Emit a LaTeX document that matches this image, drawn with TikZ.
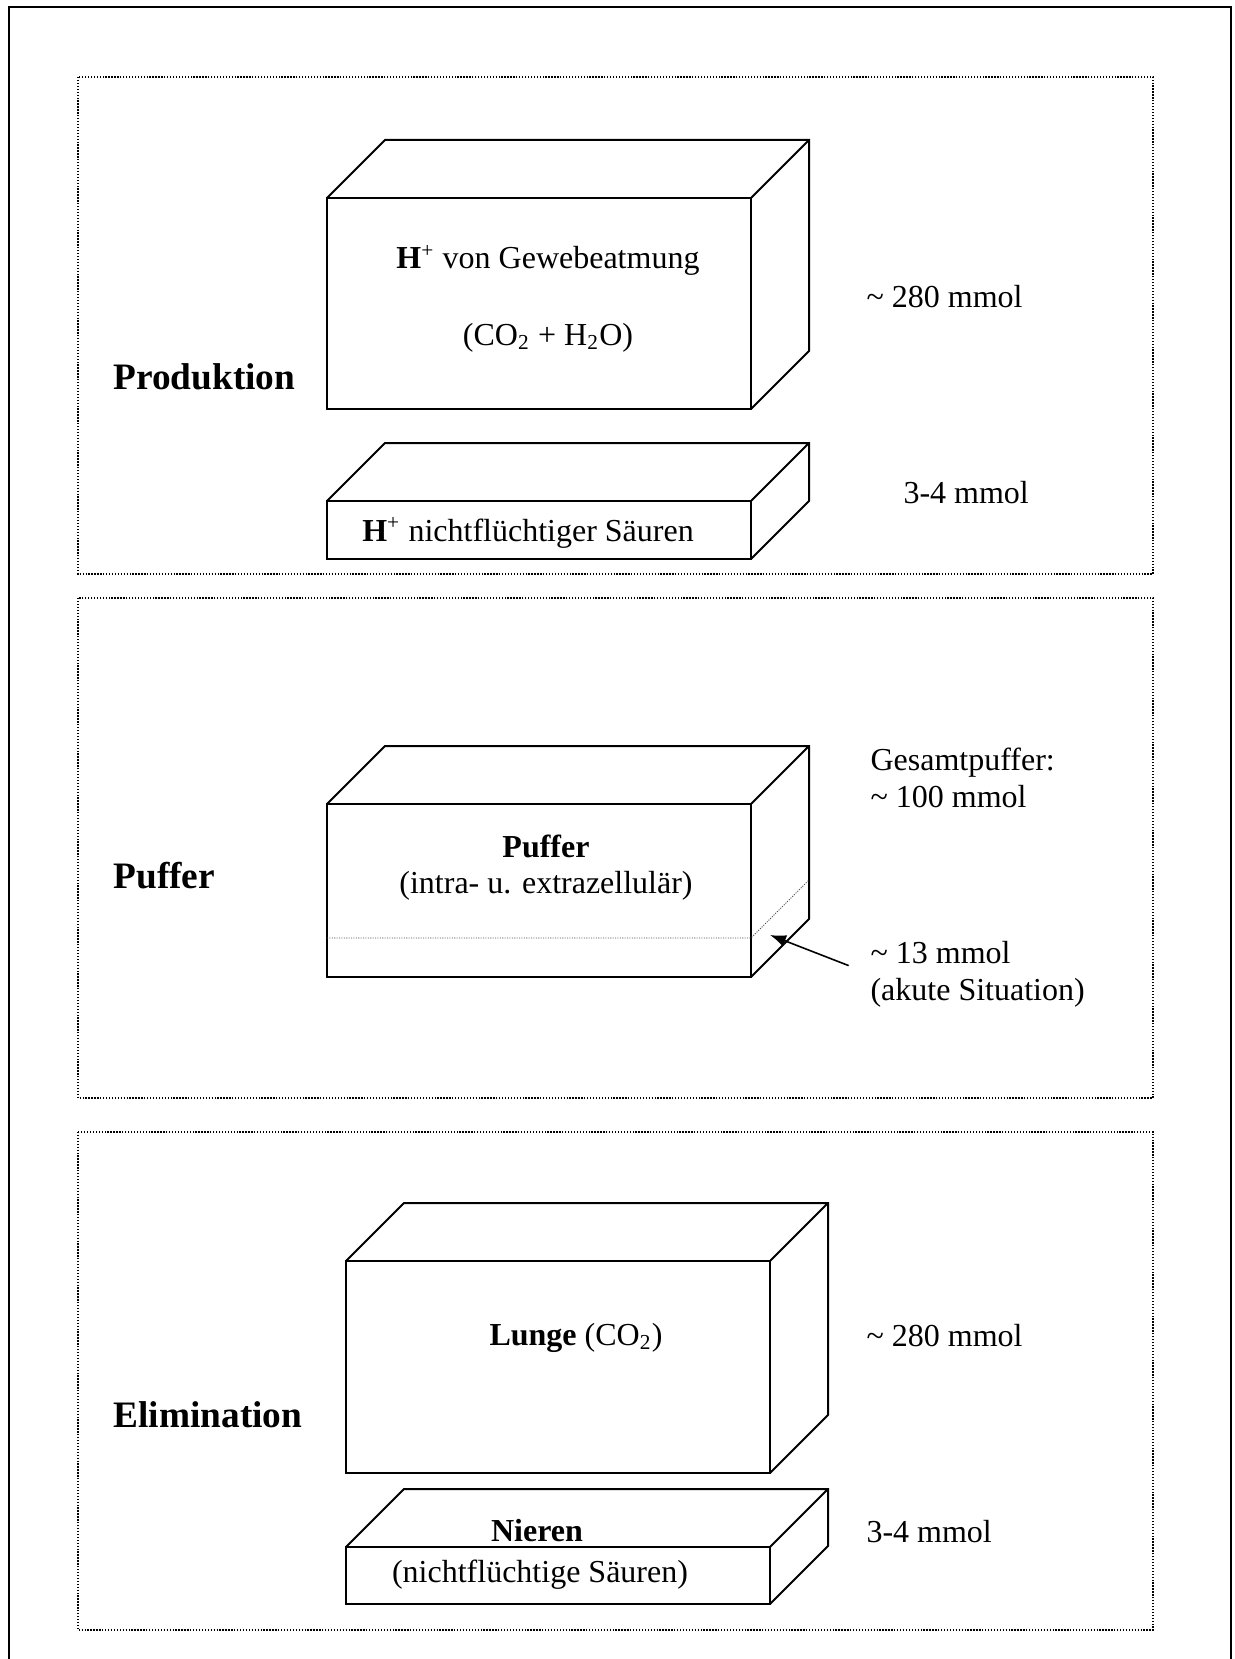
\documentclass[tikz,border=0pt]{standalone}
\usepackage{fontspec}
\setmainfont{Liberation Serif}
\usetikzlibrary{arrows.meta}

% Quader: Name, x links, y oben, Breite, Hoehe (Vorderseite)
\newcommand{\quader}[5]{%
  \node[front, minimum width=#4*0.375pt, minimum height=#5*0.375pt] (#1) at (#2,#3) {};
  \draw[kante] (#1.north west) -- ++(58,-58) -- ++(#4,0) -- ++(0,#5) -- (#1.south east)
               (#1.north east) -- ++(58,-58);
}

\begin{document}
\begin{tikzpicture}[x=0.375pt,y=-0.375pt,
    every node/.style={font=\fontsize{12}{13.8}\selectfont, inner sep=0pt},
    rahmen/.style={line width=0.5pt, dash pattern=on 0.5pt off 0.6pt},
    front/.style={draw, line width=0.75pt, anchor=north west, outer sep=0pt},
    kante/.style={line width=0.75pt},
    titel/.style={font=\fontsize{14}{16}\selectfont\bfseries, anchor=base west},
    menge/.style={anchor=base west, align=left},
    mitte/.style={anchor=base},
    pfeil/.style={-{Latex[length=6pt,width=4.5pt]}, line width=0.6pt}]
  \useasboundingbox (0,0) rectangle (1235,1659);

  % aeusserer Rahmen (unten offen)
  \draw[line width=0.9pt] (9,1659) -- (9,7) -- (1231,7) -- (1231,1659);

  % die drei Bereiche
  \foreach \oben/\unten in {77/574, 598/1098, 1132/1630}
    \draw[rahmen] (78,\oben) rectangle (1153,\unten);

  % Produktion
  \node[titel] (produktion) at (113,389) {Produktion};
  \quader{gewebe}{327}{198}{424}{211}
  \node[mitte] (gewebetext) at (548,269) {\textbf{H}\textsuperscript{+} von Gewebeatmung};
  \node[mitte] (gewebeformel) at (548,345) {(CO\textsubscript{2} + H\textsubscript{2}O)};
  \node[menge] (gewebemenge) at (866,307) {\textasciitilde{} 280 mmol};
  \quader{saeuren}{327}{501}{424}{58}
  \node[mitte] (saeurentext) at (528,541) {\textbf{H}\textsuperscript{+} nichtflüchtiger Säuren};
  \node[menge] (saeurenmenge) at (903,503) {3-4 mmol};

  % Puffer
  \node[titel] (puffertitel) at (113,888) {Puffer};
  \quader{puffer}{327}{804}{424}{173}
  \draw[line width=0.3pt, black!70, dash pattern=on 0.4pt off 0.5pt]
    (327,938) -- (751,938) -- ++(58,-58);
  \node[mitte, font=\fontsize{12}{13.8}\selectfont\bfseries] (puffertext) at (546,857) {Puffer};
  \node[mitte] (pufferort) at (546,893) {(intra- u. extrazellulär)};
  \node[menge] (gesamt) at (870,807) {Gesamtpuffer:\\\textasciitilde{} 100 mmol};
  \node[menge] (akut) at (870,1000) {\textasciitilde{} 13 mmol\\(akute Situation)};
  \coordinate (pfeilspitze) at (770,935);
  \draw[pfeil, shorten <=8.6pt] (akut.west) -- (pfeilspitze);

  % Elimination
  \node[titel] (elimination) at (113,1427) {Elimination};
  \quader{lunge}{346}{1261}{424}{212}
  \node[mitte] (lungetext) at (576,1345) {\textbf{Lunge} (CO\textsubscript{2})};
  \node[menge] (lungemenge) at (866,1346) {\textasciitilde{} 280 mmol};
  \quader{nieren}{346}{1547}{424}{57}
  \node[mitte, font=\fontsize{12}{13.8}\selectfont\bfseries] (nierentext) at (537,1541) {Nieren};
  \node[mitte] (nierenart) at (540,1582) {(nichtflüchtige Säuren)};
  \node[menge] (nierenmenge) at (866,1542) {3-4 mmol};
\end{tikzpicture}
\end{document}
